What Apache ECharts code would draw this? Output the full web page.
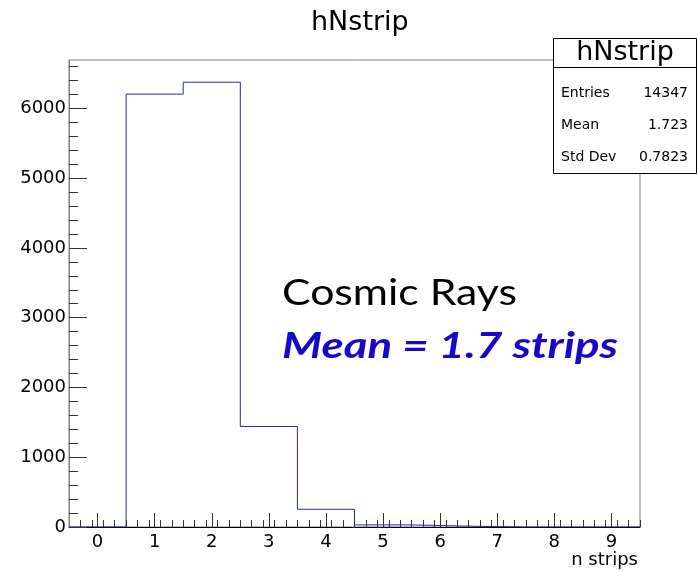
<!DOCTYPE html>
<html>
<head>
<meta charset="utf-8">
<script src="https://cdn.jsdelivr.net/npm/echarts@6/dist/echarts.min.js"></script>
<style>
  html, body { margin: 0; padding: 0; background: #fff; }
  #chart { width: 698px; height: 571px; }
</style>
</head>
<body>
<div id="chart"></div>
<script>
// Histogram hNstrip: number of strips per cluster, unit-width bins centred on integers
const binCenters = [0, 1, 2, 3, 4, 5, 6, 7, 8, 9];
const binCounts = [0, 6205, 6375, 1440, 254, 30, 12, 0, 0, 0];

const xTickLabels = [0, 1, 2, 3, 4, 5, 6, 7, 8, 9];
const yTickLabels = [0, 1000, 2000, 3000, 4000, 5000, 6000];

const statNames = ['Entries', 'Mean', 'Std Dev'];
const statValues = ['14347', '1.723', '0.7823'];

const histTitle = 'hNstrip';
const xTitle = 'n strips';
const noteLine1 = 'Cosmic Rays';
const noteLine2 = 'Mean = 1.7 strips';

// axis range: one extra half bin on each side, y headroom of 5 % over the tallest bin
const xMin = binCenters[0] - 0.5;
const xMax = binCenters[binCenters.length - 1] + 0.5;
const yMax = Math.max(...binCounts) * 1.05;

// outline of the histogram as a step line through the bin edges
const outline = binCenters.map((c, i) => [c - 0.5, binCounts[i]]);
outline.push([xMax, binCounts[binCounts.length - 1]]);

// minor tick positions (5 subdivisions per major division)
const xMinor = [];
for (let v = xMin; v <= xMax + 1e-9; v += 0.2) {
  const r = Math.round(v * 10) / 10;
  if (Math.abs(r - Math.round(r)) > 1e-6 && r > xMin + 1e-6) xMinor.push(r);
}
const yMinor = [];
for (let v = 200; v < yMax; v += 200) {
  if (v % 1000 !== 0) yMinor.push(v);
}

const axisFont = 'DejaVu Sans';
const noteFont = 'Lato';

// widen the two annotation lines to a set width
function measure(text, font) {
  const ctx = document.createElement('canvas').getContext('2d');
  ctx.font = font;
  return ctx.measureText(text).width;
}
const note1Scale = 235 / measure(noteLine1, '36px ' + noteFont);
const note2Scale = 336 / measure(noteLine2, 'italic bold 36px ' + noteFont);

const plain = v => String(Math.round(v));

const chart = echarts.init(document.getElementById('chart'), null, { renderer: 'canvas' });

const option = {
  backgroundColor: '#ffffff',
  animation: false,
  title: {
    text: histTitle,
    left: 306,
    top: 4,
    textStyle: { fontFamily: axisFont, fontSize: 27, fontWeight: 'normal', color: '#000' }
  },
  grid: {
    left: 69, right: 58, top: 60, bottom: 44,
    show: true,
    borderColor: '#808080',
    borderWidth: 1,
    outerBoundsMode: 'none'
  },
  xAxis: [
    {
      type: 'value',
      min: xMin, max: xMax,
      interval: 0.5,
      axisLine: { show: true, onZero: false, lineStyle: { color: '#000', width: 1 } },
      axisTick: { show: true, inside: true, length: 14, customValues: xTickLabels, lineStyle: { color: '#333' } },
      axisLabel: {
        show: true, customValues: xTickLabels, margin: 6,
        fontFamily: axisFont, fontSize: 18, color: '#000', formatter: plain
      },
      splitLine: { show: false }
    },
    {
      type: 'value',
      min: xMin, max: xMax,
      position: 'bottom',
      offset: 0,
      axisLine: { show: false, onZero: false },
      axisTick: { show: true, inside: true, length: 7, customValues: xMinor, lineStyle: { color: '#333' } },
      axisLabel: { show: false },
      splitLine: { show: false }
    }
  ],
  yAxis: [
    {
      type: 'value',
      min: 0, max: yMax,
      interval: 1000,
      axisLine: { show: true, onZero: false, lineStyle: { color: '#808080', width: 1 } },
      axisTick: { show: true, inside: true, length: 18, customValues: yTickLabels, lineStyle: { color: '#333' } },
      axisLabel: {
        show: true, customValues: yTickLabels, margin: 3,
        fontFamily: axisFont, fontSize: 18, color: '#000', formatter: plain
      },
      splitLine: { show: false }
    },
    {
      type: 'value',
      min: 0, max: yMax,
      position: 'left',
      offset: 0,
      axisLine: { show: false, onZero: false },
      axisTick: { show: true, inside: true, length: 9, customValues: yMinor, lineStyle: { color: '#333' } },
      axisLabel: { show: false },
      splitLine: { show: false }
    }
  ],
  series: [
    {
      name: histTitle,
      type: 'line',
      xAxisIndex: 0,
      yAxisIndex: 0,
      step: 'end',
      symbol: 'none',
      data: outline,
      lineStyle: { color: '#2626ad', width: 1 },
      z: 5
    }
  ],
  graphic: [
    {
      type: 'text',
      x: 282, y: 293,
      scaleX: note1Scale,
      style: {
        text: noteLine1, fontFamily: noteFont, fontSize: 36,
        fill: '#000', verticalAlign: 'middle', align: 'left'
      },
      z: 20
    },
    {
      type: 'text',
      x: 282, y: 346,
      scaleX: note2Scale,
      style: {
        text: noteLine2, fontFamily: noteFont, fontSize: 36,
        fontStyle: 'italic', fontWeight: 'bold',
        fill: '#1508c8', verticalAlign: 'middle', align: 'left'
      },
      z: 20
    },
    {
      type: 'text',
      right: 60, top: 551,
      style: { text: xTitle, fontFamily: axisFont, fontSize: 18, fill: '#000' },
      z: 20
    },
    // statistics box
    {
      type: 'group',
      z: 30,
      children: [
        {
          type: 'rect',
          shape: { x: 553.5, y: 38.5, width: 143, height: 135 },
          style: { fill: '#fff', stroke: '#000', lineWidth: 1 }
        },
        {
          type: 'line',
          shape: { x1: 553.5, y1: 67.5, x2: 696.5, y2: 67.5 },
          style: { stroke: '#000', lineWidth: 1 }
        },
        {
          type: 'text',
          x: 625, y: 53,
          style: {
            text: histTitle, fontFamily: axisFont, fontSize: 27,
            fill: '#000', align: 'center', verticalAlign: 'middle'
          }
        }
      ].concat(statNames.map((name, i) => ({
        type: 'text',
        x: 561, y: 93 + i * 32,
        style: {
          text: name, fontFamily: axisFont, fontSize: 14,
          fill: '#000', align: 'left', verticalAlign: 'middle'
        }
      }))).concat(statValues.map((val, i) => ({
        type: 'text',
        x: 688, y: 93 + i * 32,
        style: {
          text: val, fontFamily: axisFont, fontSize: 14,
          fill: '#000', align: 'right', verticalAlign: 'middle'
        }
      })))
    }
  ]
};

chart.setOption(option);
</script>
</body>
</html>
